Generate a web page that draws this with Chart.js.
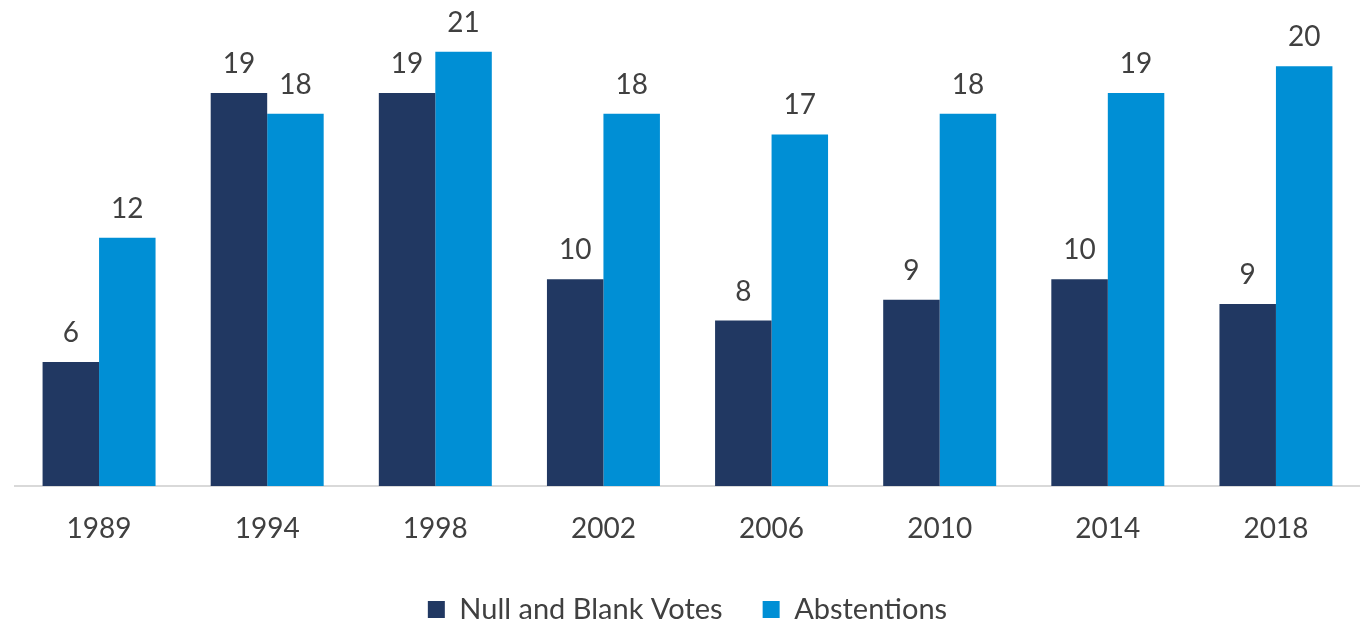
<!DOCTYPE html>
<html>
<head>
<meta charset="utf-8">
<script src="https://cdn.jsdelivr.net/npm/chart.js@4/dist/chart.umd.min.js"></script>
<style>
  html, body { margin: 0; padding: 0; background: #fff; }
  #wrap { width: 1360px; height: 621px; }
</style>
</head>
<body>
<div id="wrap"><canvas id="chart-votes"></canvas></div>
<script>
const YEARS       = ['1989', '1994', '1998', '2002', '2006', '2010', '2014', '2018'];
const NULL_BLANK  = [6, 19, 19, 10, 8, 9, 10, 8.8];
const ABSTENTIONS = [12, 18, 21, 18, 17, 18, 19, 20.3];

const NAVY = '#213862';
const BLUE = '#008FD5';
const TEXT = '#404040';
const FONT = 'Lato, "Open Sans", sans-serif';

// draws the rounded value above each bar
const barLabels = {
  id: 'barLabels',
  afterDatasetsDraw(chart) {
    const ctx = chart.ctx;
    ctx.save();
    ctx.font = '28px ' + FONT;
    ctx.fillStyle = TEXT;
    ctx.textAlign = 'center';
    ctx.textBaseline = 'alphabetic';
    chart.data.datasets.forEach((ds, i) => {
      chart.getDatasetMeta(i).data.forEach((bar, j) => {
        ctx.fillText(Math.round(ds.data[j]), bar.x, bar.y - 20);
      });
    });
    ctx.restore();
  }
};

new Chart(document.getElementById('chart-votes'), {
  type: 'bar',
  data: {
    labels: YEARS,
    datasets: [
      { label: 'Null and Blank Votes', data: NULL_BLANK,  backgroundColor: NAVY, borderWidth: 0 },
      { label: 'Abstentions',          data: ABSTENTIONS, backgroundColor: BLUE, borderWidth: 0 },
    ],
  },
  options: {
    responsive: true,
    maintainAspectRatio: false,
    animation: false,
    categoryPercentage: 0.672,
    barPercentage: 1,
    layout: { padding: { left: 15, right: 0, top: 0, bottom: -13 } },
    plugins: {
      legend: {
        position: 'bottom',
        labels: { color: TEXT, font: { size: 29, family: FONT }, boxWidth: 17, boxHeight: 17, padding: 40 },
      },
      tooltip: { enabled: false },
    },
    scales: {
      x: {
        grid: { display: false },
        border: { color: '#D9D9D9', width: 2 },
        ticks: { color: TEXT, font: { size: 28, family: FONT }, padding: 18 },
        afterFit: s => { s.height = 69; },
      },
      y: { display: false, min: 0, max: 23.5 },
    },
  },
  plugins: [barLabels],
});
</script>
</body>
</html>
